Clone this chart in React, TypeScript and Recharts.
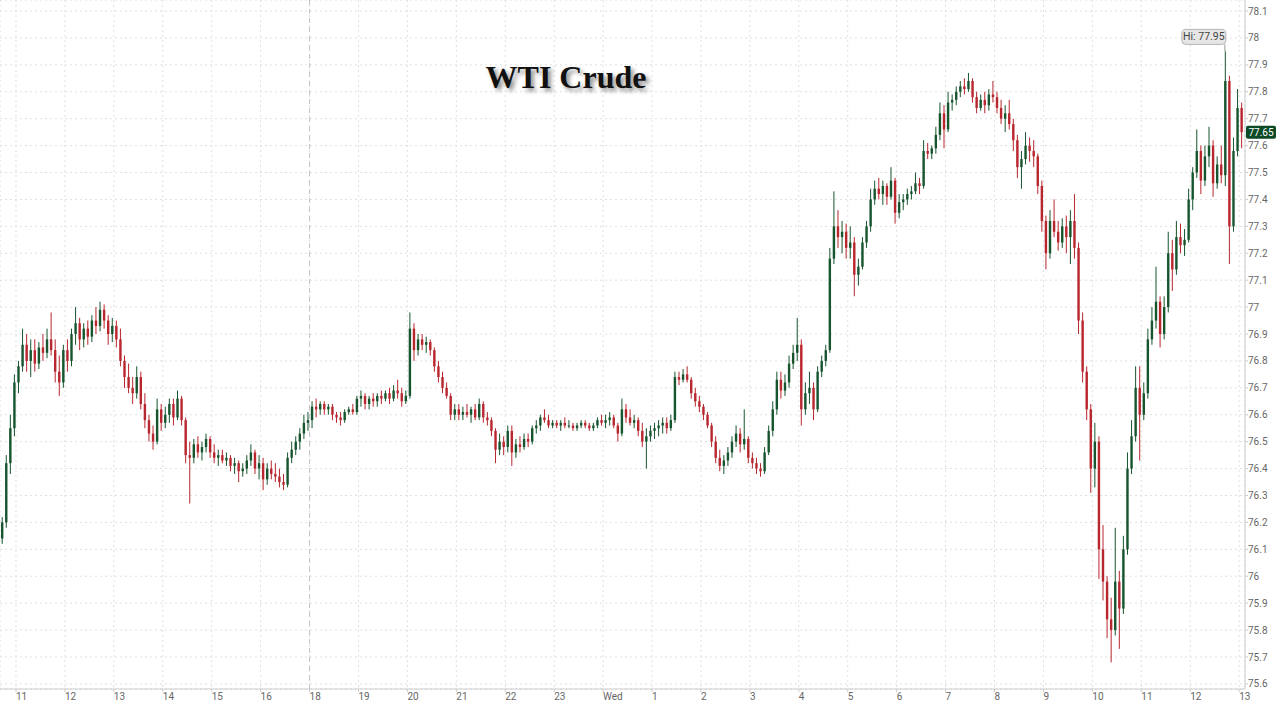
import React from 'react';
import { ComposedChart, Bar, XAxis, YAxis, CartesianGrid, ReferenceLine, ReferenceDot } from 'recharts';

// x-axis tick labels (one per trading hour; 17:00 is the daily break)
const hourLabels = ['11', '12', '13', '14', '15', '16', '18', '19', '20', '21', '22', '23', 'Wed', '1', '2', '3', '4', '5', '6', '7', '8', '9', '10', '11', '12', '13'];
const priceTicks = [75.6, 75.7, 75.8, 75.9, 76, 76.1, 76.2, 76.3, 76.4, 76.5, 76.6, 76.7, 76.8, 76.9, 77, 77.1, 77.2, 77.3, 77.4, 77.5, 77.6, 77.7, 77.8, 77.9, 78, 78.1];

// 5-minute candles [open, high, low, close]
const pre1040 = [[76.14, 76.22, 76.12, 76.2], [76.2, 76.45, 76.18, 76.42], [76.42, 76.6, 76.38, 76.55], [76.55, 76.75, 76.52, 76.72]];
const h11 = [[76.72, 76.8, 76.68, 76.78], [76.78, 76.92, 76.76, 76.86], [76.86, 76.9, 76.76, 76.8], [76.8, 76.88, 76.74, 76.84], [76.84, 76.88, 76.76, 76.79], [76.79, 76.87, 76.77, 76.85], [76.85, 76.9, 76.8, 76.83], [76.83, 76.92, 76.81, 76.88], [76.88, 76.98, 76.82, 76.84], [76.84, 76.88, 76.72, 76.76], [76.76, 76.82, 76.67, 76.72], [76.72, 76.86, 76.7, 76.84]];
const h12 = [[76.84, 76.88, 76.76, 76.8], [76.8, 76.92, 76.78, 76.9], [76.9, 77.0, 76.86, 76.94], [76.94, 76.96, 76.84, 76.88], [76.88, 76.94, 76.85, 76.92], [76.92, 76.95, 76.86, 76.89], [76.89, 76.97, 76.87, 76.95], [76.95, 77.0, 76.9, 76.93], [76.93, 77.02, 76.91, 76.99], [76.99, 77.01, 76.92, 76.95], [76.95, 76.97, 76.86, 76.9], [76.9, 76.96, 76.87, 76.93]];
const h13 = [[76.93, 76.95, 76.85, 76.88], [76.88, 76.92, 76.78, 76.8], [76.8, 76.82, 76.7, 76.74], [76.74, 76.79, 76.68, 76.7], [76.7, 76.74, 76.64, 76.68], [76.68, 76.78, 76.66, 76.74], [76.74, 76.76, 76.62, 76.64], [76.64, 76.68, 76.55, 76.58], [76.58, 76.6, 76.5, 76.53], [76.53, 76.56, 76.47, 76.5], [76.5, 76.66, 76.49, 76.62], [76.62, 76.64, 76.54, 76.57]];
const h14 = [[76.57, 76.63, 76.55, 76.6], [76.6, 76.66, 76.57, 76.64], [76.64, 76.66, 76.56, 76.59], [76.59, 76.69, 76.58, 76.66], [76.66, 76.67, 76.56, 76.58], [76.58, 76.59, 76.42, 76.45], [76.45, 76.5, 76.27, 76.44], [76.44, 76.51, 76.42, 76.49], [76.49, 76.52, 76.44, 76.46], [76.46, 76.5, 76.43, 76.48], [76.48, 76.53, 76.46, 76.51], [76.51, 76.52, 76.44, 76.46]];
const h15 = [[76.46, 76.49, 76.42, 76.44], [76.44, 76.47, 76.41, 76.45], [76.45, 76.47, 76.42, 76.43], [76.43, 76.46, 76.41, 76.44], [76.44, 76.45, 76.39, 76.41], [76.41, 76.44, 76.38, 76.42], [76.42, 76.43, 76.35, 76.39], [76.39, 76.42, 76.37, 76.4], [76.4, 76.45, 76.38, 76.43], [76.43, 76.49, 76.41, 76.46], [76.46, 76.47, 76.38, 76.4], [76.4, 76.45, 76.36, 76.42]];
const h16 = [[76.42, 76.44, 76.32, 76.36], [76.36, 76.42, 76.34, 76.4], [76.4, 76.43, 76.36, 76.38], [76.38, 76.42, 76.35, 76.37], [76.37, 76.4, 76.33, 76.35], [76.35, 76.38, 76.32, 76.34], [76.34, 76.46, 76.33, 76.44], [76.44, 76.5, 76.42, 76.47], [76.47, 76.52, 76.45, 76.5], [76.5, 76.55, 76.47, 76.53], [76.53, 76.6, 76.51, 76.57], [76.57, 76.61, 76.54, 76.58]];
const h18 = [[76.58, 76.65, 76.55, 76.63], [76.63, 76.66, 76.59, 76.62], [76.62, 76.65, 76.6, 76.64], [76.64, 76.65, 76.6, 76.62], [76.62, 76.64, 76.6, 76.63], [76.63, 76.64, 76.58, 76.6], [76.6, 76.61, 76.57, 76.59], [76.59, 76.61, 76.56, 76.58], [76.58, 76.62, 76.57, 76.61], [76.61, 76.63, 76.6, 76.62], [76.62, 76.64, 76.6, 76.61], [76.61, 76.67, 76.6, 76.66]];
const h19 = [[76.66, 76.69, 76.63, 76.67], [76.67, 76.68, 76.62, 76.64], [76.64, 76.67, 76.62, 76.66], [76.66, 76.68, 76.63, 76.65], [76.65, 76.68, 76.63, 76.67], [76.67, 76.69, 76.64, 76.66], [76.66, 76.69, 76.65, 76.68], [76.68, 76.7, 76.64, 76.66], [76.66, 76.71, 76.65, 76.69], [76.69, 76.73, 76.66, 76.68], [76.68, 76.7, 76.63, 76.65], [76.65, 76.69, 76.64, 76.67]];
const h20 = [[76.67, 76.98, 76.66, 76.92], [76.92, 76.94, 76.8, 76.84], [76.84, 76.9, 76.82, 76.88], [76.88, 76.9, 76.84, 76.86], [76.86, 76.89, 76.83, 76.87], [76.87, 76.88, 76.82, 76.84], [76.84, 76.85, 76.76, 76.78], [76.78, 76.8, 76.72, 76.74], [76.74, 76.76, 76.68, 76.7], [76.7, 76.72, 76.66, 76.67], [76.67, 76.68, 76.58, 76.6], [76.6, 76.64, 76.58, 76.62]];
const h21 = [[76.62, 76.64, 76.58, 76.6], [76.6, 76.63, 76.58, 76.61], [76.61, 76.64, 76.59, 76.6], [76.6, 76.63, 76.57, 76.62], [76.62, 76.64, 76.58, 76.59], [76.59, 76.66, 76.58, 76.64], [76.64, 76.65, 76.57, 76.59], [76.59, 76.61, 76.56, 76.58], [76.58, 76.59, 76.52, 76.54], [76.54, 76.55, 76.42, 76.47], [76.47, 76.53, 76.45, 76.5], [76.5, 76.52, 76.45, 76.48]];
const h22 = [[76.48, 76.56, 76.46, 76.54], [76.54, 76.56, 76.41, 76.46], [76.46, 76.51, 76.44, 76.49], [76.49, 76.52, 76.46, 76.48], [76.48, 76.53, 76.47, 76.51], [76.51, 76.53, 76.48, 76.5], [76.5, 76.56, 76.49, 76.55], [76.55, 76.58, 76.53, 76.56], [76.56, 76.6, 76.54, 76.59], [76.59, 76.62, 76.57, 76.58], [76.58, 76.6, 76.55, 76.56], [76.56, 76.58, 76.55, 76.57]];
const h23 = [[76.57, 76.58, 76.55, 76.56], [76.56, 76.58, 76.54, 76.57], [76.57, 76.59, 76.55, 76.56], [76.56, 76.58, 76.55, 76.56], [76.56, 76.57, 76.54, 76.55], [76.55, 76.57, 76.54, 76.56], [76.56, 76.58, 76.55, 76.57], [76.57, 76.58, 76.55, 76.56], [76.56, 76.57, 76.54, 76.55], [76.55, 76.57, 76.54, 76.56], [76.56, 76.59, 76.55, 76.58], [76.58, 76.6, 76.56, 76.57]];
const w00 = [[76.57, 76.6, 76.55, 76.58], [76.58, 76.61, 76.56, 76.59], [76.59, 76.6, 76.55, 76.56], [76.56, 76.57, 76.5, 76.53], [76.53, 76.66, 76.52, 76.62], [76.62, 76.64, 76.57, 76.59], [76.59, 76.62, 76.56, 76.57], [76.57, 76.6, 76.55, 76.58], [76.58, 76.59, 76.52, 76.54], [76.54, 76.57, 76.48, 76.5], [76.5, 76.55, 76.4, 76.52], [76.52, 76.56, 76.5, 76.54]];
const w01 = [[76.54, 76.57, 76.51, 76.55], [76.55, 76.58, 76.52, 76.56], [76.56, 76.59, 76.53, 76.57], [76.57, 76.59, 76.53, 76.55], [76.55, 76.6, 76.54, 76.58], [76.58, 76.76, 76.57, 76.74], [76.74, 76.76, 76.71, 76.73], [76.73, 76.77, 76.72, 76.75], [76.75, 76.78, 76.72, 76.73], [76.73, 76.74, 76.66, 76.68], [76.68, 76.7, 76.63, 76.65], [76.65, 76.67, 76.61, 76.63]];
const w02 = [[76.63, 76.64, 76.58, 76.6], [76.6, 76.61, 76.55, 76.56], [76.56, 76.57, 76.48, 76.5], [76.5, 76.52, 76.42, 76.44], [76.44, 76.47, 76.39, 76.41], [76.41, 76.45, 76.38, 76.43], [76.43, 76.48, 76.41, 76.46], [76.46, 76.52, 76.44, 76.5], [76.5, 76.56, 76.48, 76.53], [76.53, 76.55, 76.46, 76.49], [76.49, 76.62, 76.47, 76.51], [76.51, 76.52, 76.42, 76.44]];
const w03 = [[76.44, 76.46, 76.4, 76.42], [76.42, 76.44, 76.38, 76.4], [76.4, 76.42, 76.37, 76.39], [76.39, 76.48, 76.38, 76.46], [76.46, 76.56, 76.45, 76.54], [76.54, 76.65, 76.52, 76.62], [76.62, 76.76, 76.6, 76.73], [76.73, 76.76, 76.66, 76.69], [76.69, 76.75, 76.67, 76.72], [76.72, 76.82, 76.7, 76.79], [76.79, 76.86, 76.77, 76.83], [76.83, 76.96, 76.8, 76.86]];
const w04 = [[76.86, 76.88, 76.56, 76.62], [76.62, 76.72, 76.6, 76.68], [76.68, 76.76, 76.64, 76.7], [76.7, 76.72, 76.58, 76.62], [76.62, 76.78, 76.61, 76.76], [76.76, 76.82, 76.74, 76.8], [76.8, 76.86, 76.78, 76.84], [76.84, 77.22, 76.83, 77.18], [77.18, 77.43, 77.16, 77.3], [77.3, 77.36, 77.22, 77.26], [77.26, 77.32, 77.2, 77.28], [77.28, 77.31, 77.18, 77.22]];
const w05 = [[77.22, 77.3, 77.18, 77.24], [77.24, 77.26, 77.04, 77.12], [77.12, 77.18, 77.08, 77.15], [77.15, 77.26, 77.14, 77.24], [77.24, 77.32, 77.22, 77.3], [77.3, 77.44, 77.28, 77.4], [77.4, 77.47, 77.38, 77.44], [77.44, 77.48, 77.4, 77.42], [77.42, 77.47, 77.38, 77.45], [77.45, 77.46, 77.38, 77.41], [77.41, 77.52, 77.4, 77.47], [77.47, 77.48, 77.31, 77.35]];
const w06 = [[77.35, 77.42, 77.33, 77.39], [77.39, 77.42, 77.36, 77.4], [77.4, 77.44, 77.38, 77.42], [77.42, 77.45, 77.4, 77.43], [77.43, 77.5, 77.42, 77.46], [77.46, 77.48, 77.42, 77.45], [77.45, 77.62, 77.44, 77.58], [77.58, 77.61, 77.55, 77.57], [77.57, 77.6, 77.55, 77.59], [77.59, 77.67, 77.57, 77.64], [77.64, 77.76, 77.62, 77.72], [77.72, 77.75, 77.59, 77.66]];
const w07 = [[77.66, 77.8, 77.65, 77.76], [77.76, 77.79, 77.73, 77.77], [77.77, 77.82, 77.75, 77.8], [77.8, 77.84, 77.78, 77.82], [77.82, 77.85, 77.79, 77.81], [77.81, 77.87, 77.8, 77.84], [77.84, 77.85, 77.76, 77.78], [77.78, 77.8, 77.72, 77.74], [77.74, 77.79, 77.73, 77.77], [77.77, 77.8, 77.72, 77.75], [77.75, 77.81, 77.73, 77.79], [77.79, 77.84, 77.76, 77.78]];
const w08 = [[77.78, 77.8, 77.72, 77.74], [77.74, 77.77, 77.68, 77.7], [77.7, 77.75, 77.65, 77.72], [77.72, 77.77, 77.66, 77.68], [77.68, 77.7, 77.58, 77.62], [77.62, 77.64, 77.48, 77.52], [77.52, 77.58, 77.44, 77.55], [77.55, 77.65, 77.53, 77.6], [77.6, 77.63, 77.54, 77.58], [77.58, 77.62, 77.52, 77.56], [77.56, 77.57, 77.42, 77.45], [77.45, 77.47, 77.28, 77.32]];
const w09 = [[77.32, 77.34, 77.14, 77.2], [77.2, 77.36, 77.18, 77.32], [77.32, 77.4, 77.26, 77.28], [77.28, 77.32, 77.21, 77.24], [77.24, 77.33, 77.22, 77.3], [77.3, 77.34, 77.2, 77.26], [77.26, 77.36, 77.16, 77.32], [77.32, 77.42, 77.18, 77.22], [77.22, 77.24, 76.9, 76.95], [76.95, 76.98, 76.72, 76.76], [76.76, 76.78, 76.58, 76.62], [76.62, 76.64, 76.31, 76.4]];
const w10 = [[76.4, 76.57, 76.33, 76.5], [76.5, 76.52, 75.99, 76.1], [76.1, 76.19, 75.91, 75.98], [75.98, 76.0, 75.77, 75.84], [75.84, 75.92, 75.68, 75.8], [75.8, 76.18, 75.78, 75.98], [75.98, 76.02, 75.73, 75.88], [75.88, 76.15, 75.86, 76.1], [76.1, 76.46, 76.08, 76.4], [76.4, 76.58, 76.38, 76.52], [76.52, 76.78, 76.5, 76.7], [76.7, 76.78, 76.43, 76.6]];
const w11 = [[76.6, 76.72, 76.58, 76.68], [76.68, 76.92, 76.66, 76.88], [76.88, 77.0, 76.86, 76.95], [76.95, 77.15, 76.92, 77.02], [77.02, 77.04, 76.85, 76.9], [76.9, 77.04, 76.88, 77.0], [77.0, 77.28, 76.98, 77.2], [77.2, 77.25, 77.06, 77.14], [77.14, 77.32, 77.12, 77.26], [77.26, 77.31, 77.2, 77.23], [77.23, 77.29, 77.19, 77.25], [77.25, 77.44, 77.24, 77.4]];
const w12 = [[77.4, 77.52, 77.36, 77.5], [77.5, 77.66, 77.48, 77.58], [77.58, 77.6, 77.42, 77.47], [77.47, 77.6, 77.45, 77.56], [77.56, 77.67, 77.52, 77.6], [77.6, 77.62, 77.41, 77.46], [77.46, 77.56, 77.44, 77.53], [77.53, 77.6, 77.46, 77.49], [77.49, 77.95, 77.45, 77.84], [77.84, 77.86, 77.16, 77.3], [77.3, 77.63, 77.28, 77.58], [77.58, 77.81, 77.56, 77.74]];
const w13 = [[77.74, 77.76, 77.59, 77.65]];

const hourBlocks = [h11, h12, h13, h14, h15, h16, h18, h19, h20, h21, h22, h23, w00, w01, w02, w03, w04, w05, w06, w07, w08, w09, w10, w11, w12, w13];

type Row = { t: number; open: number; high: number; low: number; close: number; range: [number, number] };
const data: Row[] = [];
const pushCandle = (t: number, c: number[]) => data.push({ t, open: c[0], high: c[1], low: c[2], close: c[3], range: [c[2], c[1]] });
pre1040.forEach((c, j) => pushCandle(-1 + (40 + 5 * j + 2.5) / 60, c));
hourBlocks.forEach((blk, i) => blk.forEach((c, j) => pushCandle(i + (5 * j + 2.5) / 60, c)));

const hiRow = data.reduce((a, b) => (b.high > a.high ? b : a), data[0]);
const lastRow = data[data.length - 1];

const GREEN = '#17552f';
const RED = '#b8262e';

const Candle = (props: any) => {
  const { x, y, width, height, payload } = props;
  if (x == null || y == null || !payload) return null;
  const { open, close, high, low } = payload;
  const top = Math.min(y, y + height);
  const h = Math.abs(height);
  const k = high === low ? 0 : h / (high - low);
  const yO = top + (high - open) * k;
  const yC = top + (high - close) * k;
  const cx = x + width / 2;
  const col = close >= open ? GREEN : RED;
  const bw = 2.4;
  const bt = Math.min(yO, yC);
  const bh = Math.max(Math.abs(yO - yC), 1);
  return (
    <g>
      <line x1={cx} x2={cx} y1={top} y2={top + h} stroke={col} strokeWidth={1} />
      <rect x={cx - bw / 2} y={bt} width={bw} height={bh} fill={col} />
    </g>
  );
};

const PriceTag = (props: any) => {
  const vb = props.viewBox || {};
  const x0 = (vb.x || 0) + (vb.width || 0) + 1;
  const yc = vb.y || 0;
  return (
    <g>
      <rect x={x0} y={yc - 6.5} width={30} height={13} rx={2} fill="#0d4a26" />
      <text x={x0 + 15} y={yc + 3.5} textAnchor="middle" fontSize={10} fontFamily="Roboto" fill="#ffffff">
        {lastRow.close.toFixed(2)}
      </text>
    </g>
  );
};

const HiLabel = (props: any) => {
  const { cx, cy } = props;
  if (cx == null || cy == null) return null;
  const w = 44;
  const h = 15;
  const bottom = cy - 7;
  return (
    <g>
      <line x1={cx} x2={cx} y1={bottom} y2={cy} stroke="#9a9a9a" strokeWidth={1} />
      <rect x={cx - w + 1} y={bottom - h} width={w} height={h} rx={4} fill="#e6e6e6" stroke="#b4b4b4" strokeWidth={1} />
      <text x={cx - w / 2 + 1} y={bottom - 4} textAnchor="middle" fontSize={10.5} fontFamily="Roboto" fill="#444">
        {'Hi: ' + hiRow.high.toFixed(2)}
      </text>
    </g>
  );
};

const fmtPrice = (v: number) => String(Number(v.toFixed(1)));
const hourTicks = hourLabels.map((_, i) => i);

export default function App() {
  return (
    <div style={{ position: 'absolute', left: 0, top: 0, width: 1280, height: 703, background: '#ffffff' }}>
      <ComposedChart width={1280} height={703} data={data} margin={{ top: 0, right: 0, bottom: 0, left: 0 }}>
        <CartesianGrid stroke="#e0e0e0" strokeDasharray="2 3" />
        <XAxis
          type="number"
          dataKey="t"
          domain={[-0.327, 25.12]}
          allowDataOverflow
          ticks={hourTicks}
          tickFormatter={(v: number) => hourLabels[Math.round(v)]}
          height={14}
          tickSize={3}
          tickMargin={1}
          stroke="#cccccc"
          tick={{ fontSize: 10, fill: '#666', fontFamily: 'Roboto', textAnchor: 'start', dx: 0 }}
        />
        <YAxis
          orientation="right"
          type="number"
          domain={[75.581, 78.141]}
          allowDataOverflow
          ticks={priceTicks}
          tickFormatter={fmtPrice}
          width={35}
          tickSize={3}
          tickMargin={0}
          stroke="#cccccc"
          tick={{ fontSize: 10, fill: '#666', fontFamily: 'Roboto' }}
        />
        <ReferenceLine x={6} stroke="#c4c4c4" strokeDasharray="5 4" />
        <Bar dataKey="range" barSize={3} shape={<Candle />} isAnimationActive={false} />
        <ReferenceLine y={lastRow.close} stroke="none" label={<PriceTag />} />
        <ReferenceDot x={hiRow.t} y={hiRow.high} r={0} shape={<HiLabel />} />
      </ComposedChart>
      <div
        style={{
          position: 'absolute',
          left: 466,
          top: 61,
          width: 200,
          textAlign: 'center',
          fontFamily: '"Liberation Serif", "Times New Roman", serif',
          fontWeight: 'bold',
          fontSize: 32,
          lineHeight: 1,
          color: '#111',
          textShadow: '3px 3px 4px rgba(0,0,0,0.45)',
        }}
      >
        WTI Crude
      </div>
    </div>
  );
}
